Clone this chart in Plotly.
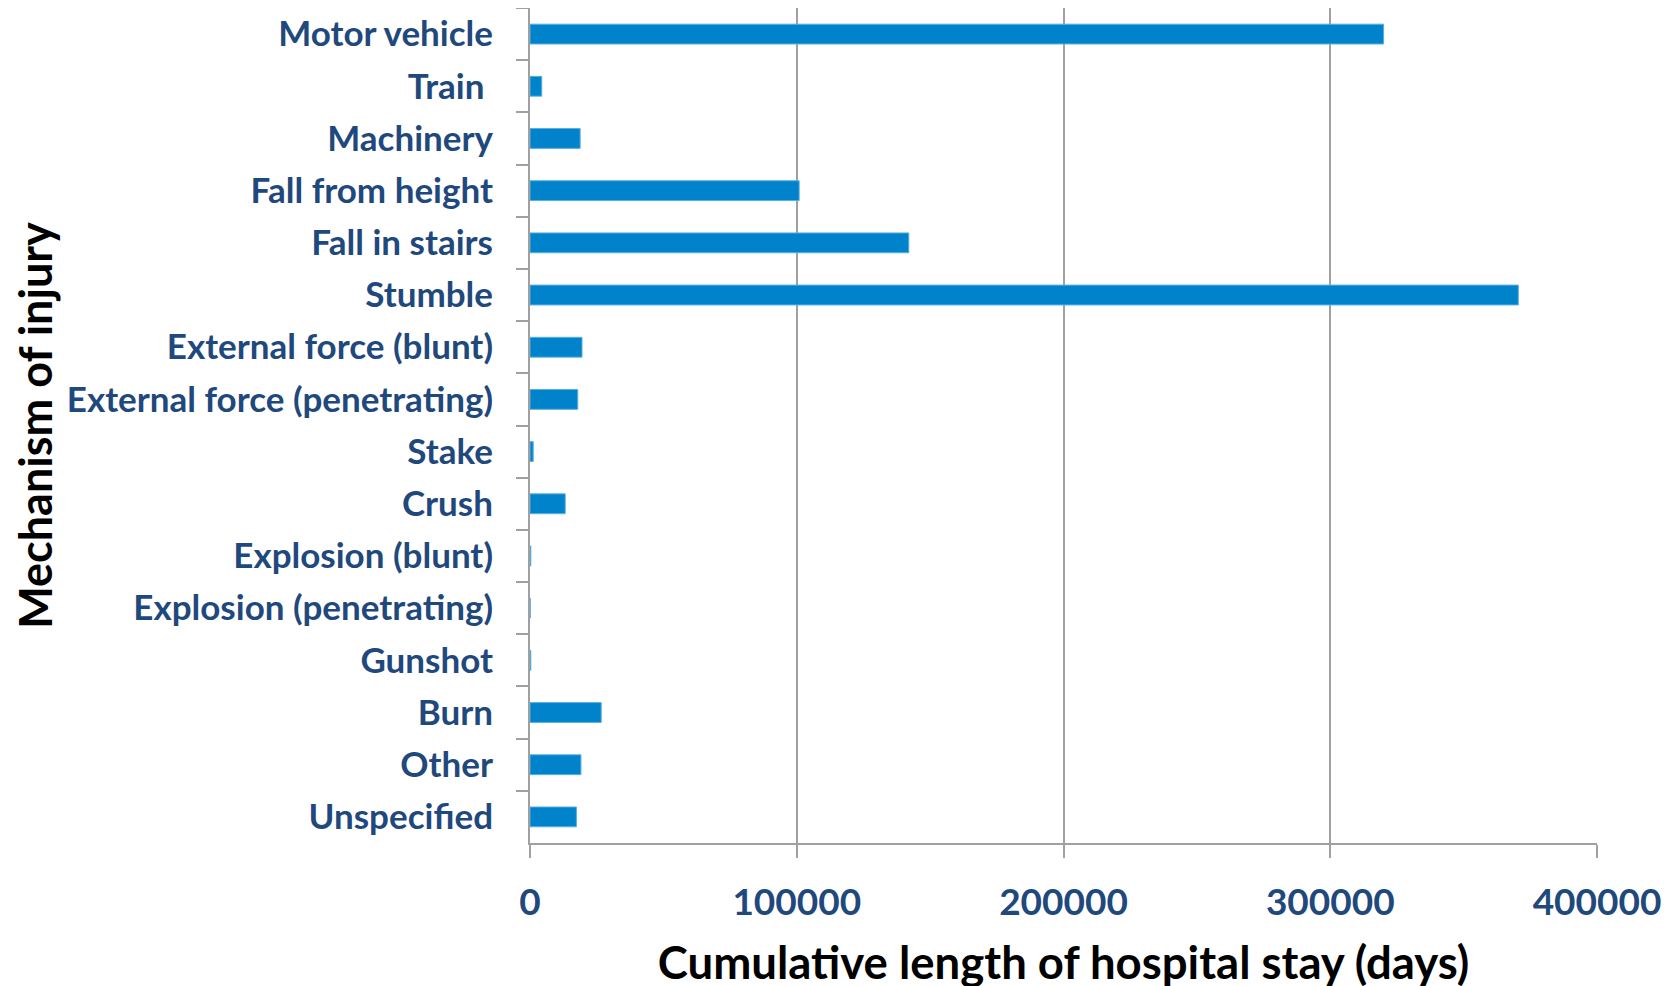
import plotly.graph_objects as go

mechanisms = ["Motor vehicle", "Train\u00a0", "Machinery", "Fall from height", "Fall in stairs",
              "Stumble", "External force (blunt)", "External force (penetrating)", "Stake",
              "Crush", "Explosion (blunt)", "Explosion (penetrating)", "Gunshot", "Burn",
              "Other", "Unspecified"]
stay_days = [320000, 4400, 18800, 100900, 142000,
             370500, 19500, 17900, 1200,
             13200, 300, 100, 300, 26700,
             19100, 17400]
x_ticks = [0, 100000, 200000, 300000, 400000]

label_blue = "#1F497D"
grid_grey = "#A0A0A0"
font_family = "Lato, 'Open Sans', sans-serif"

fig = go.Figure(go.Bar(
    x=stay_days,
    y=mechanisms,
    orientation="h",
    marker=dict(color="#0083CA", line=dict(color="#5AAFE0", width=1)),
))

# page body adds an 8px offset, margins are compensated for it
fig.update_layout(
    width=1679,
    height=986,
    margin=dict(l=522, r=90, t=0, b=151),
    plot_bgcolor="white",
    paper_bgcolor="white",
    bargap=0.62,
    showlegend=False,
    font=dict(family=font_family),
)

fig.update_xaxes(
    automargin=False,
    range=[0, 400000],
    tickvals=x_ticks,
    ticktext=[str(v) for v in x_ticks],
    showgrid=True,
    gridcolor=grid_grey,
    gridwidth=2,
    zeroline=False,
    showline=True,
    linecolor=grid_grey,
    linewidth=2,
    ticks="outside",
    ticklen=13,
    tickwidth=2,
    tickcolor=grid_grey,
    tickfont=dict(size=37, color=label_blue, family=font_family, weight="bold"),
    ticklabelstandoff=13,
    title=dict(text="Cumulative length of hospital stay (days)",
               font=dict(size=45.5, color="black", family=font_family, weight="bold"),
               standoff=25),
)

fig.update_yaxes(
    automargin=False,
    type="category",
    categoryorder="array",
    categoryarray=mechanisms,
    autorange="reversed",
    showline=True,
    linecolor=grid_grey,
    linewidth=2,
    showgrid=False,
    ticks="outside",
    tickson="boundaries",
    ticklen=12,
    tickwidth=2,
    tickcolor=grid_grey,
    tickfont=dict(size=35, color=label_blue, family=font_family, weight="bold"),
    ticklabelstandoff=28,
    title=dict(text="Mechanism of injury",
               font=dict(size=45, color="black", family=font_family, weight="bold"),
               standoff=7),
)

fig.write_html("out.html")
